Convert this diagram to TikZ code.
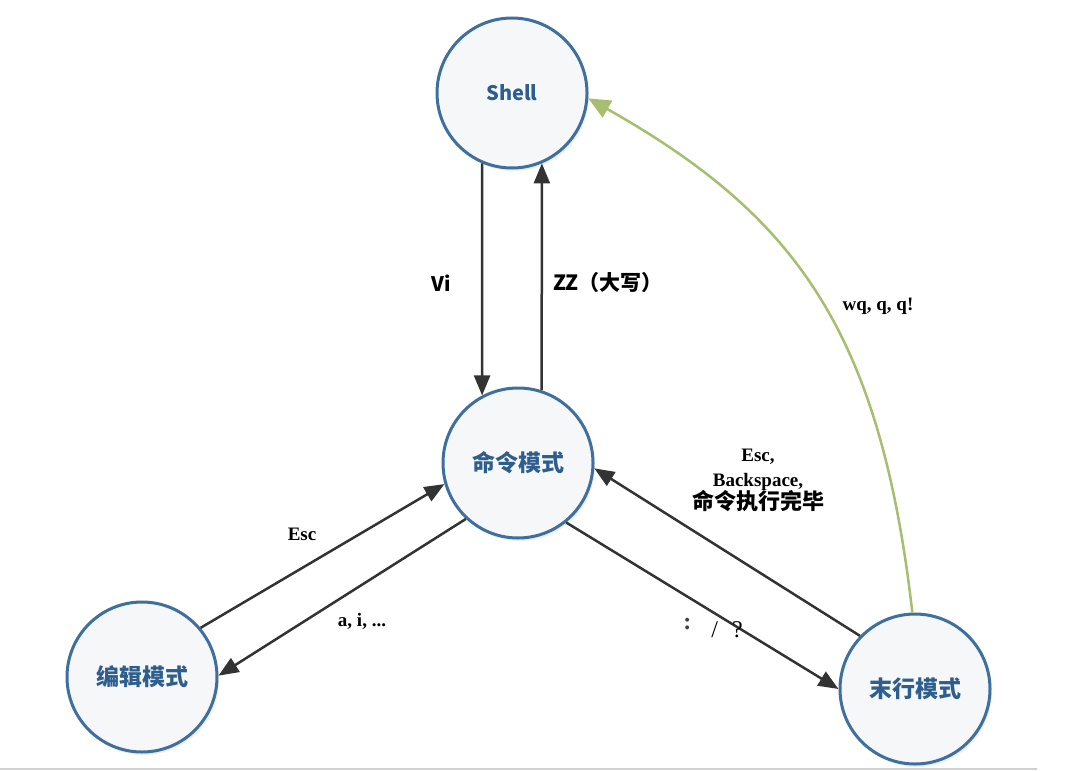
\documentclass[tikz,border=0pt]{standalone}
\usepackage{fontspec}
\setmainfont{Liberation Serif}
\newfontfamily\cjk{Noto Sans CJK SC}
\usetikzlibrary{arrows.meta,shadows}
\definecolor{ringblue}{HTML}{3F6F9C}
\definecolor{txtblue}{HTML}{2D5E8E}
\definecolor{fillc}{HTML}{F6F7F9}
\definecolor{lineg}{HTML}{333333}
\definecolor{greenl}{HTML}{A5BF6E}
\definecolor{basel}{HTML}{D0D0D0}
\begin{document}
\begin{tikzpicture}[x=1pt,y=-1pt,
  state/.style={circle, draw=ringblue, line width=3pt, fill=fillc,
    minimum size=150pt, inner sep=0pt, text=txtblue,
    font=\cjk\bfseries\fontsize{23}{26}\selectfont,
    drop shadow={opacity=0.12, shadow xshift=2pt, shadow yshift=-3pt}},
  shellstate/.style={state, font=\cjk\bfseries\fontsize{20}{24}\selectfont},
  conn/.style={draw=lineg, line width=2.5pt, -{Triangle[length=20pt,width=16pt]}},
  greenconn/.style={draw=greenl, line width=2.5pt, -{Triangle[length=22pt,width=19pt]}},
  lbl/.style={font=\bfseries\fontsize{19}{25}\selectfont, align=center, text=black},
  cjklbl/.style={font=\cjk\bfseries\fontsize{20}{24}\selectfont, text=black}]
\useasboundingbox (0,0) rectangle (1071,771);
\fill[white] (0,0) rectangle (1071,771);
\draw[basel, line width=1.5pt] (0,769) -- (1037,769);

\node[shellstate] (shell) at (512,93) {Shell};
\node[state] (cmd) at (518,463) {命令模式};
\node[state] (edit) at (142,677) {编辑模式};
\node[state] (last) at (915,689) {末行模式};

% Shell <-> command
\draw[conn] (shell.247) -- (cmd.118);
\draw[conn] (cmd.72) -- (shell.293);
\node[cjklbl] (lvi) at (441,283) {Vi};
\node[cjklbl, font=\cjk\bfseries\fontsize{21}{24}\selectfont] (lzz) at (608,283) {ZZ（大写）};

% command <-> edit
\draw[conn] (edit.40) -- (cmd.196);
\draw[conn] (cmd.227) -- (edit.1);
\node[lbl] (lesc) at (302,534) {Esc};
\node[lbl] (lai) at (362,621) {a, i, ...};

% command <-> last line
\draw[conn] (cmd.-51) -- (last.180);
\draw[conn] (last.136) -- (cmd.-4);
\node[lbl] (lback) at (758,480) {Esc,\\Backspace,\\[-2pt]{\cjk\fontsize{22}{24}\selectfont 命令执行完毕}};
\node[font=\fontsize{24}{28}\selectfont] (lcolon) at (713,628)
  {\raisebox{8pt}{\textcolor{darkgray}{\bfseries :}}\hspace{20pt}/\hspace{14pt}?};

% last line -> shell
\draw[greenconn] (last.92) .. controls (880,330) and (795,215) .. (shell.-4);
\node[lbl] (lwq) at (878,306) {wq, q, q!};
\end{tikzpicture}
\end{document}
